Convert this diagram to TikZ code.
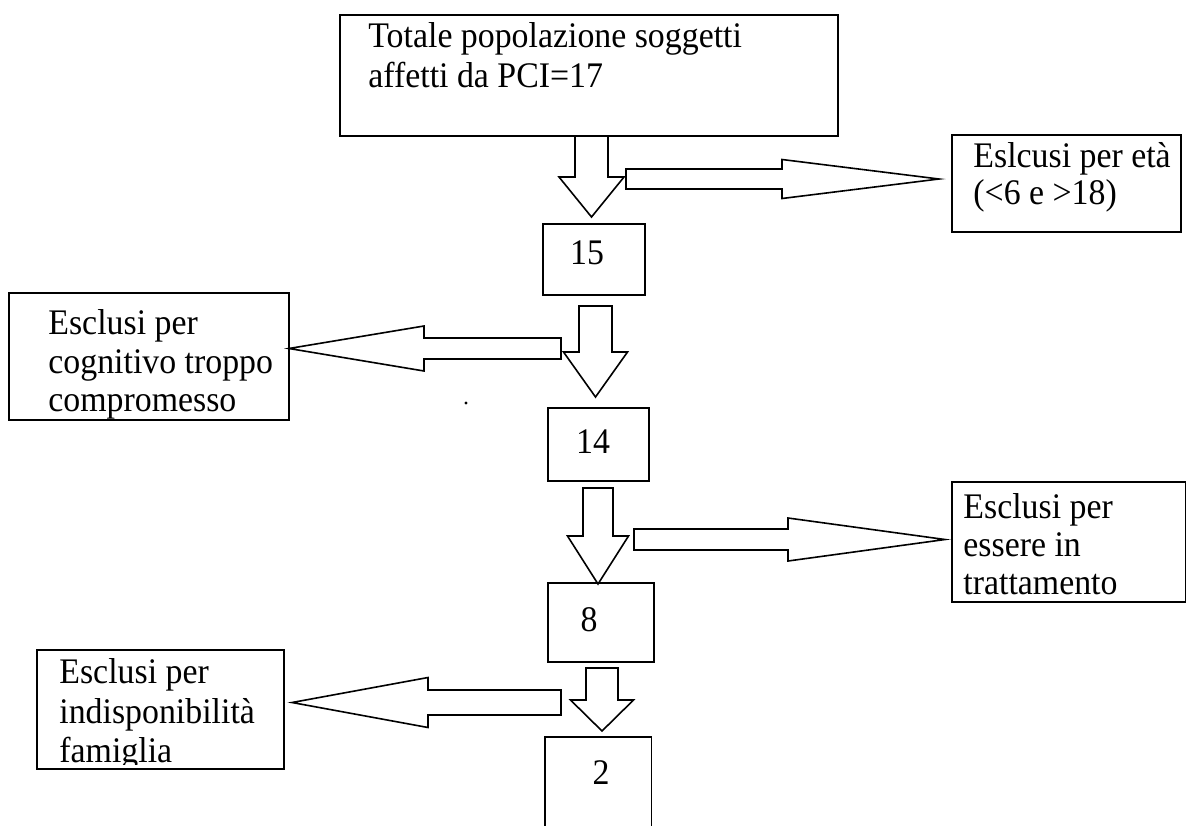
\documentclass[tikz,border=0pt]{standalone}
\usepackage{fontspec}
\setmainfont[FakeStretch=0.94]{Liberation Serif}
\newcommand{\mybox}[5]{\node[box,minimum width={(#4-#2)*0.5pt},minimum height={(#5-#3)*0.5pt}] (#1) at ({(#2+#4)/2},{(#3+#5)/2}) {};}
% name, cx, ytop, yshaftend, ytip, shaft half, head half
\newcommand{\downblk}[7]{%
  \coordinate (#1s) at (#2,#3); \coordinate (#1t) at (#2,#5);
  \draw[blk] ({#2-#6},#3) -- ({#2+#6},#3) -- ({#2+#6},#4) -- ({#2+#7},#4) -- (#1t) -- ({#2-#7},#4) -- ({#2-#6},#4) -- cycle;}
% name, xtail, xheadbase, xtip, cy, shaft half, head half
\newcommand{\sideblk}[7]{%
  \coordinate (#1s) at (#2,#5); \coordinate (#1t) at (#4,#5);
  \draw[blk] (#2,{#5-#6}) -- (#3,{#5-#6}) -- (#3,{#5-#7}) -- (#1t) -- (#3,{#5+#7}) -- (#3,{#5+#6}) -- (#2,{#5+#6}) -- cycle;}
\begin{document}
\begin{tikzpicture}[x=0.5pt,y=-0.5pt,
  box/.style={draw,line width=0.9pt,inner sep=0pt,outer sep=0pt},
  txt/.style={anchor=base west,inner sep=0pt,font=\fontsize{18}{20}\selectfont},
  num/.style={inner sep=0pt,font=\fontsize{18}{20}\selectfont},
  blk/.style={draw,line width=0.8pt,line join=miter,fill=white}]
\useasboundingbox[fill=white] (0,0) rectangle (1186,825);

% boxes
\mybox{top}{340}{15}{838}{136}
\mybox{eta}{952}{135}{1181}{232}
\mybox{b15}{543}{224}{645}{295}
\mybox{cog}{9}{293}{289}{420}
\mybox{b14}{548}{408}{649}{481}
\mybox{tratt}{952}{482}{1186}{602}
\mybox{b8}{548}{583}{654}{662}
\mybox{fam}{37}{650}{284}{769}
\node[inner sep=0pt,minimum width=53pt,minimum height=45pt] (b2) at (598,782) {};
\draw[line width=0.9pt] (b2.south west) -- (b2.north west) -- (b2.north east) -- (b2.south east);

% texts
\node[txt] (top1) at (368,47) {Totale popolazione soggetti};
\node[txt] (top2) at (368,87) {affetti da PCI=17};
\node[txt] (eta1) at (973,167) {Eslcusi per età};
\node[txt] (eta2) at (973,204) {(<6 e >18)};
\node[num] (n15) at (587,253) {15};
\node[txt] (cog1) at (48,334) {Esclusi per};
\node[txt] (cog2) at (48,373) {cognitivo troppo};
\node[txt] (cog3) at (48,411) {compromesso};
\node[num] (n14) at (593,442) {14};
\node[txt] (tratt1) at (963,518) {Esclusi per};
\node[txt] (tratt2) at (963,556) {essere in};
\node[txt] (tratt3) at (963,594) {trattamento};
\node[num] (n8) at (589,620) {8};
\begin{scope}
\clip (37,650) rectangle (284,764);
\node[txt] (fam1) at (59,683) {Esclusi per};
\node[txt] (fam2) at (59,723) {indisponibilità};
\node[txt] (fam3) at (59,762) {famiglia};
\end{scope}
\node[num] (n2) at (601,773) {2};
\node[circle,fill,inner sep=0pt,minimum size=1.6pt] (dot) at (466,403) {};

% block arrows
\downblk{d1}{591.5}{136}{177}{217}{16.5}{32.5}
\sideblk{r1}{626}{782}{939}{179}{10}{19.5}
\downblk{d2}{595.5}{306}{352}{397}{16.5}{32}
\sideblk{l2}{561}{424}{289}{348.5}{10.5}{22.5}
\downblk{d3}{598}{488}{536}{584}{15}{30.5}
\sideblk{r3}{634}{788}{945}{539.5}{10.5}{21.5}
\downblk{d4}{602}{668}{700}{731}{16}{31.5}
\sideblk{l4}{561}{428}{292}{702.5}{12.5}{25}
\end{tikzpicture}
\end{document}
